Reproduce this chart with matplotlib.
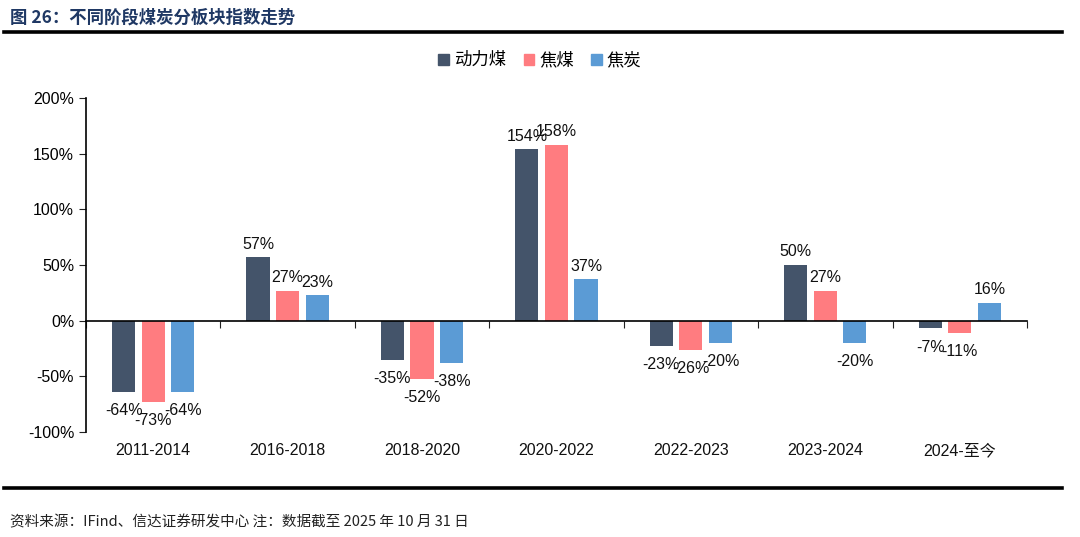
"""
煤炭分板块指数走势 bar chart
"""
import matplotlib
matplotlib.use("Agg")
import matplotlib.pyplot as plt
import numpy as np
from matplotlib.lines import Line2D
from matplotlib.patches import Patch

periods = ["2011-2014", "2016-2018", "2018-2020", "2020-2022",
           "2022-2023", "2023-2024", "2024-至今"]
series_names = ["动力煤", "焦煤", "焦炭"]
thermal = [-64, 57, -35, 154, -23, 50, -7]
coking_coal = [-73, 27, -52, 158, -26, 27, -11]
coke = [-64, 23, -38, 37, -20, -20, 16]
colors = ["#44546A", "#FF7C80", "#5B9BD5"]

title = "图 26：不同阶段煤炭分板块指数走势"
source = "资料来源：IFind、信达证券研发中心 注：数据截至 2025 年 10 月 31 日"


def main():
    """
    main wrapper function
    """
    plt.rcParams["font.family"] = ["Liberation Sans", "Noto Sans CJK SC", "DejaVu Sans"]

    fig = plt.figure(figsize=(10.8, 5.37), dpi=100)
    ax = fig.add_axes([0.0796, 0.1955, 0.8713, 0.622])

    xs = np.arange(len(periods))
    width = 0.172
    step = 0.22
    for i, (vals, col) in enumerate(zip([thermal, coking_coal, coke], colors)):
        pos = xs + (i - 1) * step
        ax.bar(pos, vals, width=width, color=col, zorder=2)
        for x, v in zip(pos, vals):
            off = 4 if v >= 0 else -8
            ax.annotate(f"{v}%", (x, v), xytext=(0, off), textcoords="offset points",
                        ha="center", va="bottom" if v >= 0 else "top",
                        fontsize=11.5, color="#111111")

    ax.set_xlim(-0.5, len(periods) - 0.5)
    ax.set_ylim(-100, 200)
    ax.set_yticks(np.arange(-100, 201, 50))
    ax.set_yticklabels([f"{t}%" for t in range(-100, 201, 50)], fontsize=11.5)
    ax.set_xticks(np.arange(-0.5, len(periods), 1.0))
    ax.set_xticklabels([])
    ax.tick_params(axis="x", length=5, direction="out", color="#222222")
    ax.tick_params(axis="y", length=5, direction="out", color="#222222")

    for side in ["top", "right"]:
        ax.spines[side].set_visible(False)
    ax.spines["bottom"].set_position(("data", 0))
    ax.spines["bottom"].set_zorder(3)
    ax.spines["bottom"].set_linewidth(1.2)
    ax.spines["left"].set_linewidth(1.2)

    for x, name in zip(xs, periods):
        ax.text(x, -117, name, ha="center", va="center", fontsize=11.5, color="#111111")

    handles = [Patch(color=c) for c in colors]
    fig.legend(handles, series_names, loc="center", bbox_to_anchor=(0.5, 0.888),
               ncol=3, frameon=False, handlelength=0.6,
               handleheight=0.6, handletextpad=0.3, columnspacing=1.0,
               prop={"family": ["Noto Sans CJK SC"], "size": 12.5})

    fig.text(0.009, 0.968, title, fontsize=12.5, fontweight="bold",
             color="#1F3864", family=["Noto Sans CJK SC"], va="center")
    fig.add_artist(Line2D([0.004, 0.983], [0.941, 0.941], color="black", lw=2.6))
    fig.add_artist(Line2D([0.004, 0.983], [0.091, 0.091], color="black", lw=2.6))
    fig.text(0.009, 0.028, source, fontsize=10.5, color="#222222",
             family=["Noto Sans CJK SC"], va="center")

    fig.savefig("out.png", dpi=100)


if __name__ == "__main__":
    main()
